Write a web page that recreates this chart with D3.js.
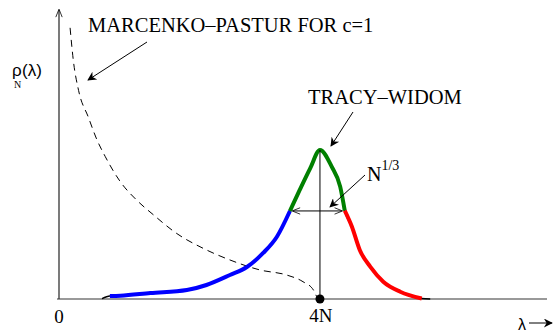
<!DOCTYPE html>
<html>
<head>
<meta charset="utf-8">
<script src="https://cdn.jsdelivr.net/npm/d3@7"></script>
<style>
	body { margin: 0; background: #fff; }
	svg { display: block; }
	.serif { font-family: "Liberation Serif", "Times New Roman", serif; fill: #000; }
	.sans { font-family: "Liberation Sans", "DejaVu Sans", sans-serif; fill: #000; }
</style>
</head>
<body>
<script>
(function () {
	"use strict";

	var w = 554;
	var h = 335;

	// Marcenko-Pastur (c=1) density, dashed curve (lambda in units of N)
	var mpLambda = [0.17, 0.22, 0.30, 0.45, 0.58, 0.71, 0.94, 1.19, 1.45, 1.80, 2.21, 2.62, 3.08, 3.49, 3.74, 3.90, 3.95];
	var mpDensity = [1.82, 1.60, 1.40, 1.22, 1.07, 0.955, 0.787, 0.664, 0.564, 0.441, 0.340, 0.262, 0.195, 0.161, 0.116, 0.060, 0.015];

	// largest eigenvalue density around the edge 4N
	var twLambda = [0.66, 0.78, 0.94, 1.40, 1.96, 2.26, 2.62, 2.88, 3.13, 3.34, 3.54, 3.69, 3.85, 4.00, 4.18, 4.31, 4.38, 4.49, 4.61, 4.77, 4.97, 5.23, 5.56, 5.69];
	var twDensity = [0.002, 0.020, 0.022, 0.040, 0.060, 0.094, 0.161, 0.215, 0.309, 0.418, 0.591, 0.732, 0.877, 1.0, 0.888, 0.754, 0.593, 0.485, 0.329, 0.217, 0.116, 0.049, 0.003, 0.0];

	// coloured pieces of that curve: [from, to, colour]
	var pieceStart = [0.78, 3.54, 4.38];
	var pieceEnd = [3.54, 4.38, 5.56];
	var pieceColor = ["#0000ff", "#008000", "#ff0000"];

	var edge = 4; // 4N
	var xMax = 7.48;
	var yMax = 1.94;

	var xScale = d3.scaleLinear().domain([0, xMax]).range([59, 547]);
	var yScale = d3.scaleLinear().domain([0, 1]).range([299, 150]);

	var svg = d3.select("body").append("svg")
		.attr("width", w)
		.attr("height", h);

	var defs = svg.append("defs");
	defs.append("marker")
		.attr("id", "head")
		.attr("viewBox", "0 0 10 10")
		.attr("refX", 9).attr("refY", 5)
		.attr("markerWidth", 13).attr("markerHeight", 9)
		.attr("markerUnits", "userSpaceOnUse")
		.attr("orient", "auto")
		.append("path").attr("d", "M0,0 L10,5 L0,10 L3,5 Z").attr("fill", "#000");
	defs.append("marker")
		.attr("id", "open")
		.attr("viewBox", "0 0 10 10")
		.attr("refX", 9).attr("refY", 5)
		.attr("markerWidth", 10).attr("markerHeight", 8)
		.attr("markerUnits", "userSpaceOnUse")
		.attr("orient", "auto-start-reverse")
		.append("path").attr("d", "M0,1 L10,5 L0,9").attr("fill", "none").attr("stroke", "#000").attr("stroke-width", 1);

	// Axes
	svg.append("line")
		.attr("x1", xScale(0) - 2).attr("x2", xScale(xMax))
		.attr("y1", yScale(0)).attr("y2", yScale(0))
		.attr("stroke", "#777").attr("stroke-width", 1.5);
	svg.append("line")
		.attr("x1", xScale(0)).attr("x2", xScale(0))
		.attr("y1", yScale(0)).attr("y2", yScale(yMax))
		.attr("stroke", "#333").attr("stroke-width", 1.3)
		.attr("marker-end", "url(#open)");

	var line = d3.line()
		.x((d) => xScale(d[0]))
		.y((d) => yScale(d[1]))
		.curve(d3.curveMonotoneX);

	// Marcenko-Pastur
	var mp = mpLambda.map((l, i) => [l, mpDensity[i]]);
	svg.append("path")
		.attr("d", line(mp))
		.attr("fill", "none")
		.attr("stroke", "#000")
		.attr("stroke-width", 1)
		.attr("stroke-dasharray", "7,5");

	// edge curve, thin black first then coloured pieces
	var tw = twLambda.map((l, i) => [l, twDensity[i]]);
	svg.append("path")
		.attr("d", line(tw))
		.attr("fill", "none")
		.attr("stroke", "#000")
		.attr("stroke-width", 1.5);

	pieceColor.forEach(function (c, i) {
		var pts = tw.filter((d) => d[0] >= pieceStart[i] - 1e-9 && d[0] <= pieceEnd[i] + 1e-9);
		svg.append("path")
			.attr("d", line(pts))
			.attr("fill", "none")
			.attr("stroke", c)
			.attr("stroke-width", 4)
			.attr("stroke-linecap", "butt");
	});

	// vertical line at 4N and the dot
	svg.append("line")
		.attr("x1", xScale(edge)).attr("x2", xScale(edge))
		.attr("y1", yScale(0)).attr("y2", yScale(1))
		.attr("stroke", "#000").attr("stroke-width", 1);
	svg.append("circle")
		.attr("cx", xScale(edge)).attr("cy", yScale(0))
		.attr("r", 4.5).attr("fill", "#000");

	// width of the green part: double arrow
	var wy = yScale(twDensity[twLambda.indexOf(pieceStart[1])]);
	svg.append("line")
		.attr("x1", xScale(pieceStart[1]) + 3).attr("x2", xScale(pieceEnd[1]) - 3)
		.attr("y1", wy).attr("y2", wy)
		.attr("stroke", "#000").attr("stroke-width", 1)
		.attr("marker-start", "url(#open)")
		.attr("marker-end", "url(#open)");

	// labels
	svg.append("text").attr("class", "serif")
		.attr("x", 88).attr("y", 32)
		.style("font-size", "20.5px")
		.text("MARCENKO\u2013PASTUR FOR c=1");
	svg.append("line")
		.attr("x1", 147).attr("y1", 42).attr("x2", 88).attr("y2", 80)
		.attr("stroke", "#000").attr("stroke-width", 1)
		.attr("marker-end", "url(#head)");

	svg.append("text").attr("class", "serif")
		.attr("x", 308).attr("y", 104)
		.style("font-size", "20.5px")
		.text("TRACY\u2013WIDOM");
	svg.append("line")
		.attr("x1", 353).attr("y1", 112).attr("x2", 331).attr("y2", 146)
		.attr("stroke", "#000").attr("stroke-width", 1)
		.attr("marker-end", "url(#head)");

	var nt = svg.append("text").attr("class", "serif")
		.attr("x", 367).attr("y", 181)
		.style("font-size", "20px");
	nt.append("tspan").text("N");
	nt.append("tspan").attr("dy", -11).style("font-size", "14px").text("1/3");
	svg.append("line")
		.attr("x1", 365).attr("y1", 175).attr("x2", 330).attr("y2", 207)
		.attr("stroke", "#000").attr("stroke-width", 1)
		.attr("marker-end", "url(#head)");

	// axis labels
	svg.append("text").attr("class", "serif")
		.attr("x", xScale(0)).attr("y", 323)
		.attr("text-anchor", "middle")
		.style("font-size", "19px")
		.text("0");
	svg.append("text").attr("class", "serif")
		.attr("x", xScale(edge) + 1).attr("y", 322)
		.attr("text-anchor", "middle")
		.style("font-size", "19px")
		.text("4N");

	svg.append("text").attr("class", "sans")
		.attr("x", 12).attr("y", 76)
		.style("font-size", "17px")
		.text("\u03c1");
	svg.append("text").attr("class", "sans")
		.attr("x", 22).attr("y", 76)
		.style("font-size", "17px")
		.text("(\u03bb)");
	svg.append("text").attr("class", "serif")
		.attr("x", 14).attr("y", 88)
		.style("font-size", "10px")
		.text("N");

	svg.append("text").attr("class", "sans")
		.attr("x", 518).attr("y", 330)
		.style("font-size", "16px")
		.text("\u03bb");
	svg.append("line")
		.attr("x1", 529).attr("y1", 323).attr("x2", 552).attr("y2", 323)
		.attr("stroke", "#000").attr("stroke-width", 1)
		.attr("marker-end", "url(#head)");
})();
</script>
</body>
</html>
